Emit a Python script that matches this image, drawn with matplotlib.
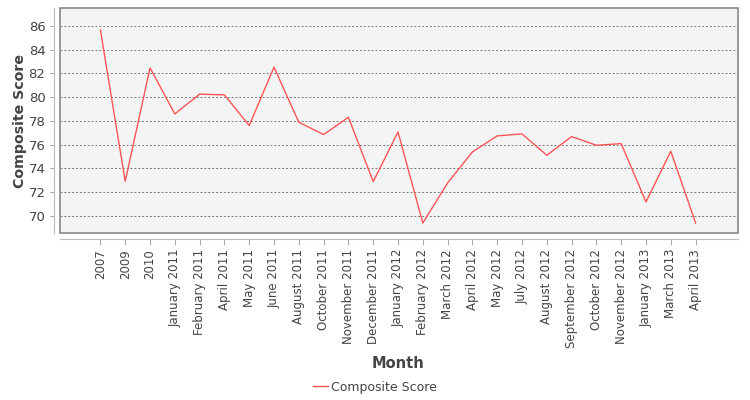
import matplotlib
matplotlib.use("Agg")
import matplotlib.pyplot as plt
from matplotlib.patches import Rectangle

months = ["2007", "2009", "2010", "January 2011", "February 2011", "April 2011",
          "May 2011", "June 2011", "August 2011", "October 2011", "November 2011",
          "December 2011", "January 2012", "February 2012", "March 2012", "April 2012",
          "May 2012", "July 2012", "August 2012", "September 2012", "October 2012",
          "November 2012", "January 2013", "March 2013", "April 2013"]
scores = [85.64, 72.92, 82.46, 78.59, 80.25, 80.19, 77.61, 82.52, 77.89, 76.85,
          78.31, 72.89, 77.07, 69.41, 72.78, 75.39, 76.74, 76.91, 75.11, 76.68,
          75.95, 76.09, 71.18, 75.45, 69.41]
yticks = [70, 72, 74, 76, 78, 80, 82, 84, 86]

plt.rcParams['font.family'] = ['DejaVu Sans']
fig = plt.figure(figsize=(7.5, 4), dpi=100)
ax = fig.add_axes([60/750, 1-233/400, 678/750, 225/400])
ax.set_facecolor('#f4f4f4')
x = list(range(len(months)))
ax.plot(x, scores, color='#ff5555', lw=1, label='Composite Score')
ax.set_xlim(-1.63, len(months) - 1 + 1.71)
ax.set_ylim(68.57, 87.5)
ax.set_yticks(yticks)
ax.set_xticks(x)
ax.set_xticklabels(months)
ax.tick_params(axis='y', labelsize=9.5, labelcolor='#444444', color='#aaaaaa', length=3)
ax.tick_params(axis='x', color='#aaaaaa', length=4, labelrotation=90, labelsize=8.5,
               labelcolor='#444444')
ax.grid(axis='y', color='#777777', linestyle=(0, (2, 2)), lw=0.7)
ax.set_axisbelow(True)
for s in ['top', 'right']:
    ax.spines[s].set_visible(False)
for s in ['left', 'bottom']:
    ax.spines[s].set_position(('outward', 4))
    ax.spines[s].set_color('#bbbbbb')
ax.add_patch(Rectangle((0, 0), 1, 1, transform=ax.transAxes, fill=False,
                       edgecolor='#888888', lw=1.2, clip_on=False, zorder=5))
ax.set_ylabel('Composite Score', fontsize=10.2, fontweight='bold', color='#444444')
ax.set_xlabel('Month', fontsize=10.5, fontweight='bold', color='#444444')
# place axis labels to match the reference layout (figure pixel coords -> axes coords)
ax.yaxis.set_label_coords((20 - 60) / 678, 0.5)
ax.xaxis.set_label_coords((398 - 60) / 678, -(363 - 233) / 225)
ax.xaxis.label.set_va('center')
ax.yaxis.label.set_va('center')
fig.legend(loc='center', bbox_to_anchor=(0.5, 1-387/400), frameon=False,
           fontsize=9, handlelength=1.2, handletextpad=0.3, labelcolor='#444444')
fig.savefig('out.png', dpi=100)
